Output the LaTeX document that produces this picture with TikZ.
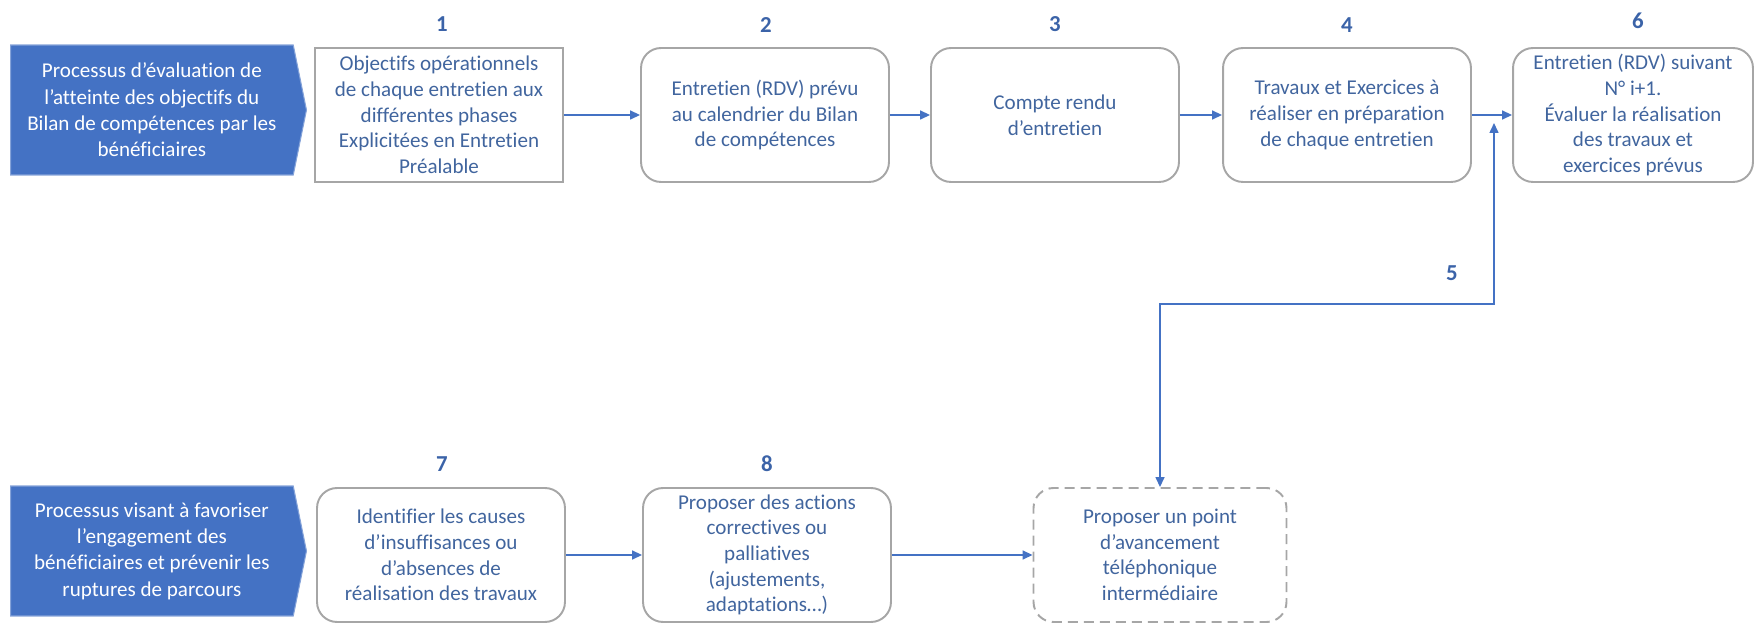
\documentclass[tikz,border=0pt]{standalone}
\usepackage{fontspec}
\setmainfont[Ligatures=NoCommon]{Carlito}
\usepackage{tikz}
\usetikzlibrary{arrows.meta,shapes.symbols}

\definecolor{flow}{HTML}{4472C4}
\definecolor{txt}{HTML}{41659E}
\definecolor{edge}{HTML}{A6A6A6}
\definecolor{num}{HTML}{3B63A8}

\tikzset{
    box/.style={draw=edge, line width=1.1pt, rounded corners=0.4cm, align=center, text=txt,
        font=\fontsize{12}{14.6}\selectfont, minimum width=4.96cm, minimum height=2.68cm, inner sep=2pt},
    proc/.style={signal, signal to=east, signal pointer angle=157, fill=flow, draw=flow!65!white,
        line width=0.6pt, text=white, align=center, font=\fontsize{12}{15}\selectfont,
        minimum width=5.92cm, minimum height=2.6cm, inner sep=1pt},
    arr/.style={->, flow, line width=0.85pt},
    stepnum/.style={text=num, font=\fontsize{13}{15}\selectfont\bfseries},
}

\begin{document}
\begin{tikzpicture}[x=0.02cm, y=-0.02cm, >={Triangle[length=0.2cm,width=0.18cm]}]
        \useasboundingbox (0,0) rectangle (1756,624);
        \node[proc, anchor=west] (p1) at (10,110) {Processus d’évaluation de\\l’atteinte des objectifs du\\Bilan de compétences par les\\bénéficiaires};
        \node[box, rounded corners=0pt] (b1) at (439,115) {Objectifs opérationnels\\de chaque entretien aux\\différentes phases\\Explicitées en Entretien\\Préalable};
        \node[box] (b2) at (765,115) {Entretien (RDV) prévu\\au calendrier du Bilan\\de compétences};
        \node[box] (b3) at (1055,115) {Compte rendu\\d’entretien};
        \node[box] (b4) at (1347,115) {Travaux et Exercices à\\réaliser en préparation\\de chaque entretien};
        \node[box, minimum width=4.8cm] (b6) at (1633,115) {Entretien (RDV) suivant\\N° i+1.\\Évaluer la réalisation\\des travaux et\\exercices prévus};

        \node[proc, anchor=west] (p2) at (10,551) {Processus visant à favoriser\\l’engagement des\\bénéficiaires et prévenir les\\ruptures de parcours};
        \node[box] (b7) at (441,555) {Identifier les causes\\d’insuffisances ou\\d’absences de\\réalisation des travaux};
        \node[box] (b8) at (767,555) {Proposer des actions\\correctives ou\\palliatives\\(ajustements,\\adaptations…)};
        \node[box, dash pattern=on 0.2cm off 0.12cm, minimum width=5.06cm] (ph) at (1160,555) {Proposer un point\\d’avancement\\téléphonique\\intermédiaire};

        \node[stepnum] (n1) at (442,24) {1};
        \node[stepnum] (n2) at (766,25) {2};
        \node[stepnum] (n3) at (1055,24) {3};
        \node[stepnum] (n4) at (1347,25) {4};
        \node[stepnum] (n6) at (1638,21) {6};
        \node[stepnum] (n5) at (1452,273) {5};
        \node[stepnum] (n7) at (442,464) {7};
        \node[stepnum] (n8) at (767,464) {8};

        \draw[arr] (b1) -- (b2);
        \draw[arr] (b2) -- (b3);
        \draw[arr] (b3) -- (b4);
        \draw[arr] (b4) -- (b6);
        \draw[arr] (b7) -- (b8);
        \draw[arr] (b8) -- (ph);

        \coordinate (c5) at (1494,304);
        \coordinate (j5) at (1494,123);
        \draw[arr, <->] (ph.north) |- (c5) -- (j5);
    \end{tikzpicture}
\end{document}
